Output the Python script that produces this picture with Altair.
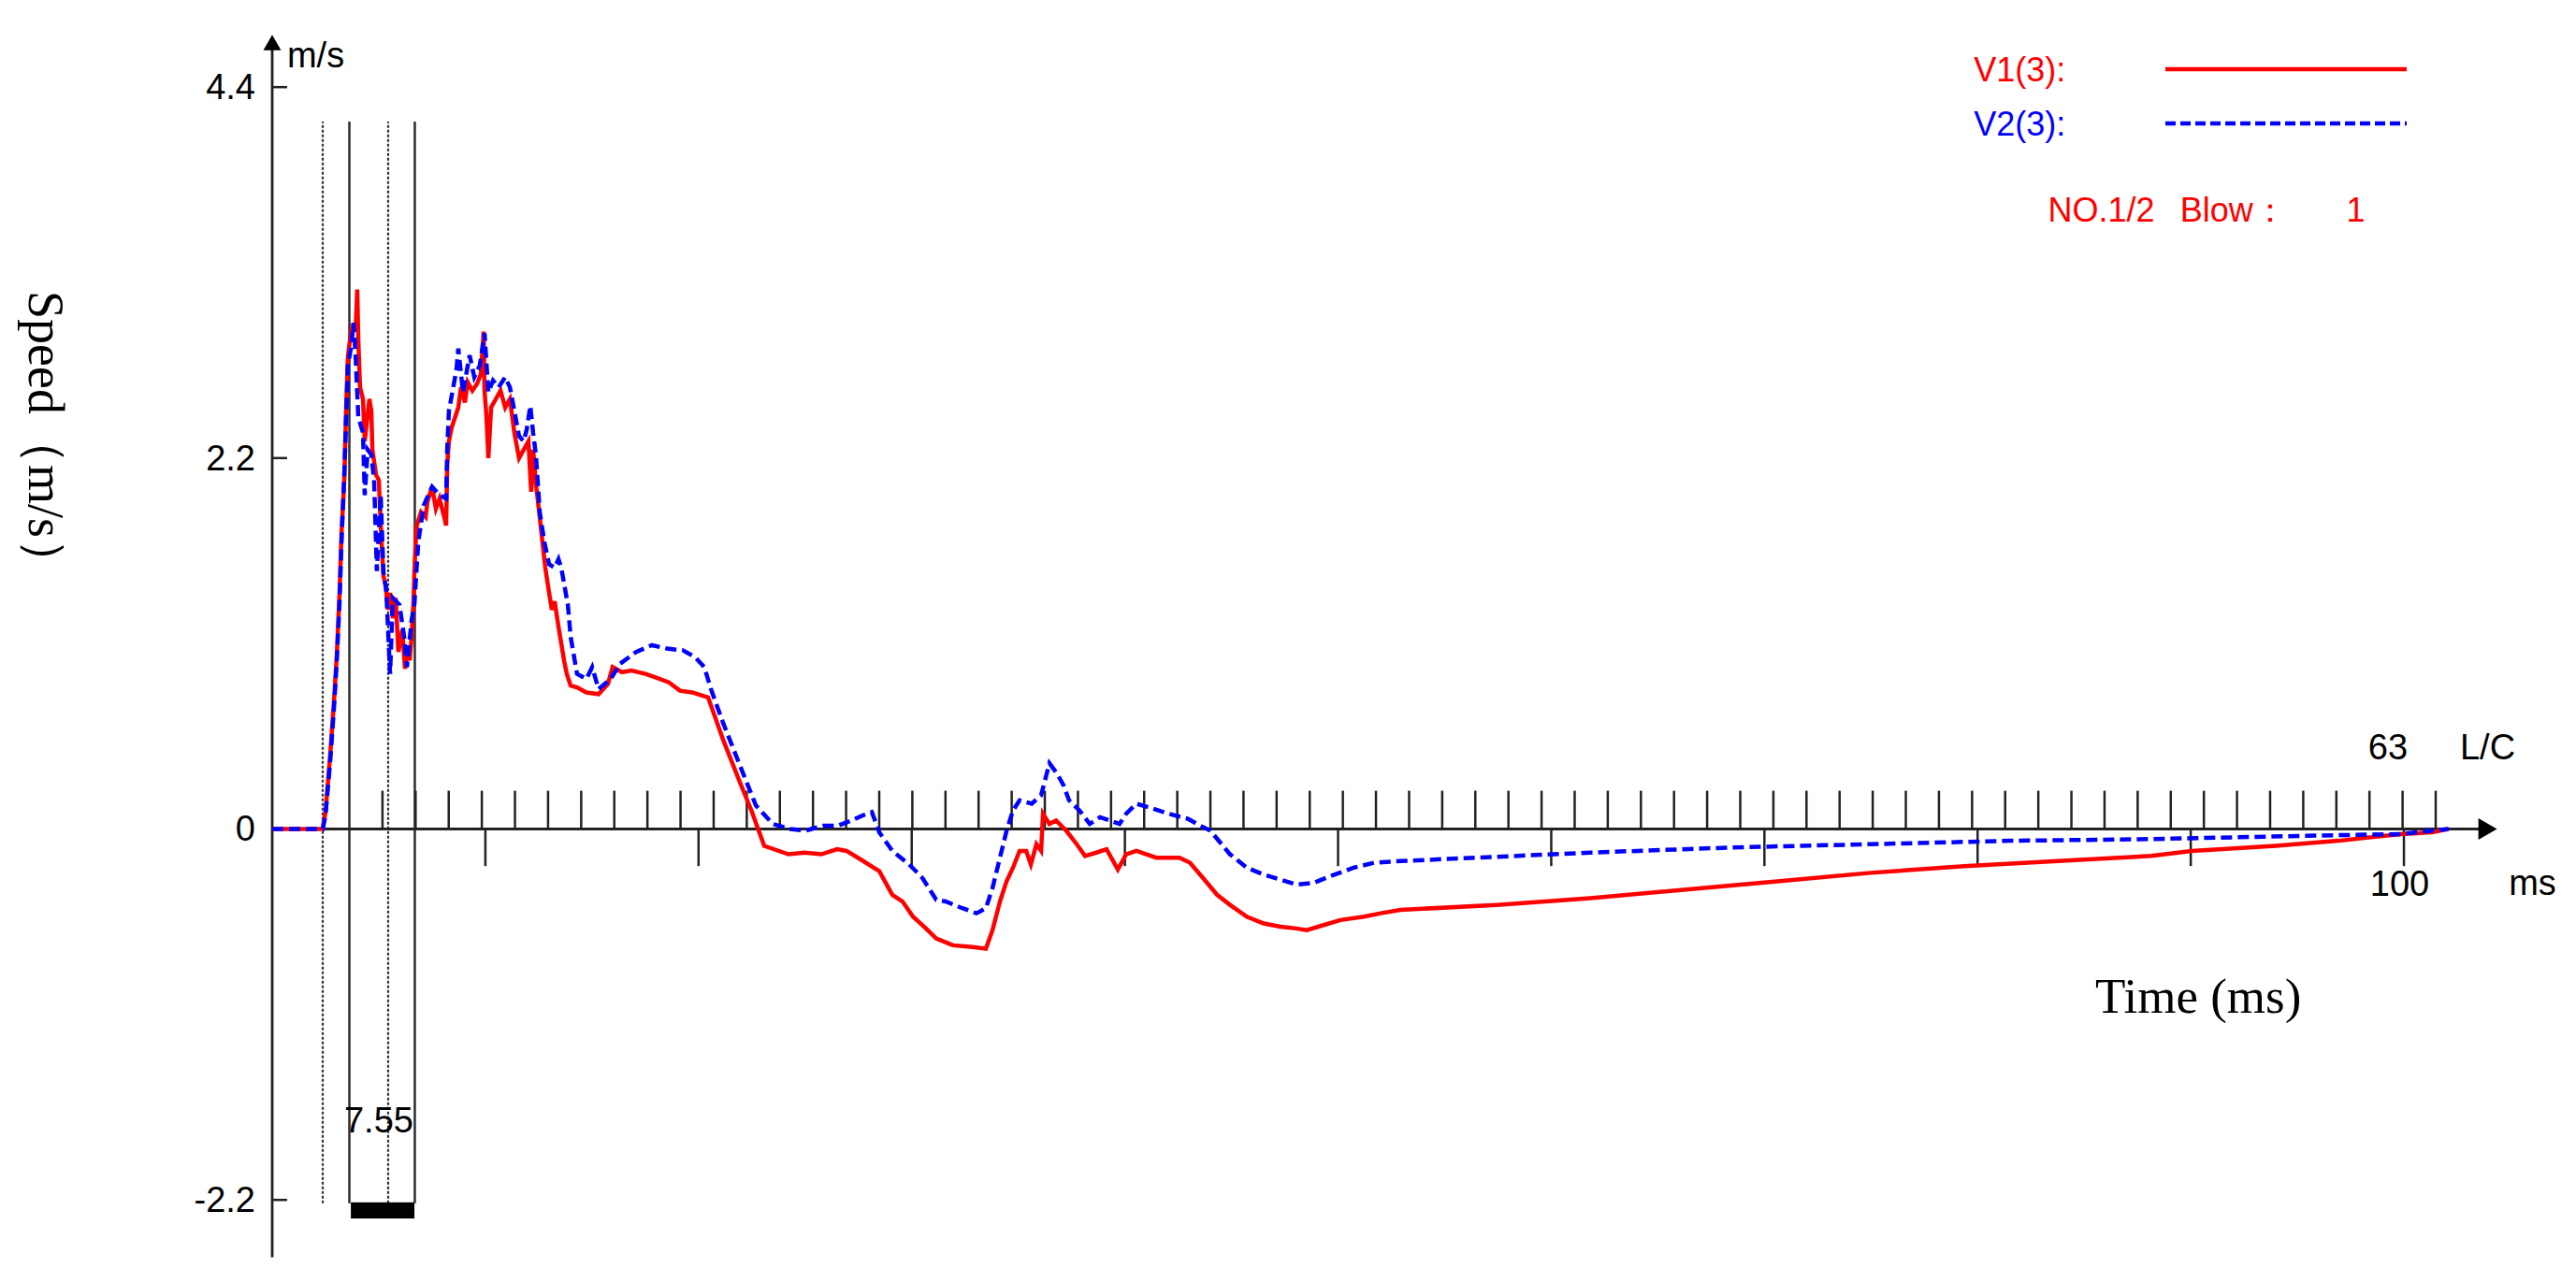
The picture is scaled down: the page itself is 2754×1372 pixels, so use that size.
import altair as alt
import pandas as pd

# ---------------- data ----------------
# V1(3) : red solid  (time ms, speed m/s)
v1_time = [0, 2.37, 2.50, 2.72, 2.90, 3.03, 3.16, 3.25, 3.38, 3.47,
           3.55, 3.69, 3.82, 3.91, 3.99, 4.04, 4.12, 4.26, 4.34, 4.43,
           4.56, 4.65, 4.70, 4.87, 5.00, 5.13, 5.22, 5.31, 5.44, 5.53,
           5.66, 5.79, 5.92, 6.10, 6.23, 6.32, 6.45, 6.54, 6.63, 6.67,
           6.76, 6.98, 7.20, 7.28, 7.50, 7.68, 7.85, 8.07, 8.16, 8.21,
           8.29, 8.42, 8.60, 8.73, 8.86, 9.04, 9.17, 9.39, 9.61, 9.79,
           9.92, 9.96, 10.05, 10.14, 10.27, 10.49, 10.71, 10.93, 11.15, 11.36,
           11.58, 11.80, 12.02, 12.15, 12.24, 12.37, 12.55, 12.68, 12.81, 12.99,
           13.12, 13.25, 13.43, 13.56, 13.69, 13.82, 14.00, 14.30, 14.74, 15.31,
           15.75, 15.97, 16.41, 16.85, 17.51, 17.95, 18.61, 19.13, 19.70, 20.45,
           21.15, 21.90, 22.51, 23.08, 24.22, 24.97, 25.76, 26.50, 26.94, 27.60,
           28.48, 29.09, 29.57, 30.06, 30.67, 31.15, 31.94, 32.87, 33.48, 33.79,
           34.14, 34.45, 34.75, 35.06, 35.37, 35.59, 35.85, 36.07, 36.16, 36.46,
           36.77, 37.25, 37.74, 38.13, 38.66, 39.14, 39.67, 40.06, 40.54, 41.47,
           42.56, 43.05, 43.66, 44.32, 44.93, 45.72, 46.51, 47.30, 48.05, 48.53,
           49.32, 50.11, 51.21, 52.00, 52.92, 57.44, 61.83, 66.21, 70.60, 74.99,
           79.38, 83.77, 88.15, 90.04, 93.99, 96.93, 99.87, 101.32, 102.06]
v1_speed = [0, 0, 0.10, 0.44, 0.76, 1.03, 1.40, 1.75, 2.07, 2.50,
            2.80, 2.94, 3.00, 2.95, 3.20, 2.90, 2.62, 2.55, 2.30, 2.40,
            2.55, 2.48, 2.25, 2.10, 2.07, 1.70, 1.50, 1.45, 1.30, 1.40,
            1.25, 1.37, 1.05, 1.18, 0.95, 1.07, 1.00, 1.14, 1.35, 1.52,
            1.79, 1.88, 1.85, 1.94, 2.03, 1.90, 1.96, 1.85, 1.80, 2.16,
            2.30, 2.38, 2.45, 2.50, 2.62, 2.53, 2.65, 2.60, 2.64, 2.70,
            2.95, 2.60, 2.45, 2.20, 2.50, 2.55, 2.60, 2.50, 2.55, 2.35,
            2.20, 2.25, 2.30, 2.00, 2.25, 2.05, 1.85, 1.70, 1.55, 1.40,
            1.30, 1.35, 1.20, 1.10, 1.00, 0.92, 0.85, 0.84, 0.81, 0.80,
            0.86, 0.96, 0.93, 0.94, 0.92, 0.90, 0.87, 0.82, 0.81, 0.78,
            0.53, 0.29, 0.10, -0.10, -0.15, -0.14, -0.15, -0.12, -0.13, -0.18,
            -0.25, -0.39, -0.43, -0.52, -0.59, -0.65, -0.69, -0.70, -0.71, -0.60,
            -0.43, -0.31, -0.23, -0.13, -0.13, -0.21, -0.09, -0.13, 0.09, 0.03,
            0.05, -0.01, -0.09, -0.16, -0.14, -0.12, -0.24, -0.15, -0.13, -0.17,
            -0.17, -0.20, -0.29, -0.39, -0.45, -0.52, -0.56, -0.58, -0.59, -0.60,
            -0.57, -0.54, -0.52, -0.50, -0.48, -0.45, -0.41, -0.36, -0.31, -0.26,
            -0.22, -0.19, -0.16, -0.13, -0.10, -0.07, -0.03, -0.02, 0]

# V2(3) : blue dashed
v2_time = [0, 2.37, 2.50, 2.72, 2.90, 3.03, 3.16, 3.25, 3.38, 3.47,
           3.55, 3.69, 3.82, 3.91, 4.04, 4.26, 4.34, 4.48, 4.65, 4.78,
           4.91, 5.09, 5.22, 5.35, 5.53, 5.66, 5.97, 6.19, 6.32, 6.54,
           6.67, 6.85, 7.11, 7.50, 7.85, 8.16, 8.21, 8.29, 8.64, 8.73,
           8.95, 9.26, 9.48, 9.74, 9.96, 10.14, 10.36, 10.62, 10.93, 11.15,
           11.36, 11.58, 11.80, 11.94, 12.11, 12.24, 12.37, 12.55, 12.77, 12.99,
           13.25, 13.43, 13.56, 13.87, 14.00, 14.30, 14.74, 15.01, 15.31, 15.88,
           16.32, 17.07, 17.81, 18.52, 19.26, 19.83, 20.27, 20.58, 21.15, 21.90,
           22.69, 23.48, 24.31, 25.01, 25.85, 26.55, 27.16, 27.69, 28.13, 28.48,
           29.09, 29.88, 30.50, 31.15, 31.59, 32.38, 33.04, 33.48, 33.79, 34.14,
           34.45, 34.75, 35.06, 35.63, 36.07, 36.46, 36.81, 37.12, 37.38, 37.87,
           38.35, 38.83, 39.32, 39.75, 40.06, 40.54, 41.33, 42.08, 42.96, 43.53,
           44.01, 44.93, 45.72, 46.51, 48.05, 48.84, 49.63, 50.72, 51.69, 52.92,
           56.56, 61.83, 68.41, 74.99, 81.57, 88.15, 95.48, 99.87, 101.32, 102.10]
v2_speed = [0, 0, 0.08, 0.40, 0.72, 1.00, 1.35, 1.70, 2.10, 2.45,
            2.75, 2.85, 3.00, 2.81, 2.44, 2.35, 1.98, 2.25, 2.22, 2.07,
            1.53, 1.98, 1.52, 1.42, 0.92, 1.37, 1.33, 1.14, 0.96, 1.24,
            1.33, 1.70, 1.92, 2.03, 1.98, 1.96, 2.25, 2.48, 2.72, 2.85,
            2.59, 2.81, 2.68, 2.75, 2.94, 2.59, 2.66, 2.62, 2.68, 2.62,
            2.48, 2.33, 2.30, 2.37, 2.51, 2.35, 2.22, 1.88, 1.70, 1.57,
            1.55, 1.60, 1.55, 1.33, 1.14, 0.92, 0.89, 0.96, 0.83, 0.89,
            0.98, 1.05, 1.09, 1.07, 1.06, 1.02, 0.96, 0.83, 0.63, 0.39,
            0.14, 0.03, 0.00, -0.01, 0.02, 0.02, 0.05, 0.08, 0.10, -0.02,
            -0.13, -0.21, -0.29, -0.42, -0.43, -0.47, -0.50, -0.47, -0.35, -0.17,
            -0.01, 0.11, 0.17, 0.15, 0.20, 0.39, 0.33, 0.26, 0.17, 0.11,
            0.03, 0.07, 0.05, 0.03, 0.09, 0.15, 0.12, 0.09, 0.06, 0.02,
            -0.01, -0.15, -0.23, -0.27, -0.33, -0.32, -0.28, -0.23, -0.20, -0.19,
            -0.17, -0.14, -0.11, -0.09, -0.07, -0.06, -0.04, -0.03, -0.01, 0]

# axis ticks / labels
y_tick_values = [4.4, 2.2, 0, -2.2]
y_tick_labels = ["4.4", "2.2", "0", "-2.2"]
x_major_ticks = [10, 20, 30, 40, 50, 60, 70, 80, 90, 100]
lc_count = 63          # L/C marks
lc_start = 3.62        # ms of first marker line
lc_step = 1.5535       # ms per L/C
dotted_marks = [2.37, 5.44]
solid_marks = [3.62, 6.69]

RED = "#ff0000"
BLUE = "#0000ff"
INK = "#222222"

# ---------------- scales ----------------
W, H = 2730, 1350
X_DOM = [-12.418, 107.37]
Y_DOM = [-2.6151, 4.8724]
xs = alt.Scale(domain=X_DOM, nice=False, zero=False)
ys = alt.Scale(domain=Y_DOM, nice=False, zero=False)


def X(f):
    return alt.X(f, type="quantitative", scale=xs, axis=None)


def Y(f):
    return alt.Y(f, type="quantitative", scale=ys, axis=None)


def rules(rows, **kw):
    df = pd.DataFrame(rows, columns=["x1", "y1", "x2", "y2"])
    return alt.Chart(df).mark_rule(**kw).encode(
        x=X("x1"), y=Y("y1"), x2=alt.X2("x2"), y2=alt.Y2("y2"))


def texts(rows, **kw):
    df = pd.DataFrame(rows, columns=["t", "v", "label"])
    return alt.Chart(df).mark_text(**kw).encode(
        x=X("t"), y=Y("v"), text="label:N")


layers = []

# marker lines (dotted & solid) and the black bar
layers.append(rules([(t, -2.22, t, 4.196) for t in dotted_marks],
                    color="#333333", strokeWidth=2.2, strokeDash=[3, 2]))
layers.append(rules([(t, -2.22, t, 4.196) for t in solid_marks],
                    color="#333333", strokeWidth=2.6))
bar_df = pd.DataFrame({"x1": [3.69], "x2": [6.67], "y1": [-2.215], "y2": [-2.31]})
layers.append(alt.Chart(bar_df).mark_rect(color="black").encode(
    x=X("x1"), x2=alt.X2("x2"), y=Y("y1"), y2=alt.Y2("y2")))

# y axis
layers.append(rules([(0, -2.54, 0, 4.664)], color=INK, strokeWidth=2.8))
layers.append(rules([(0, v, 0.70, v) for v in y_tick_values], color=INK, strokeWidth=2.5))
# x axis
layers.append(rules([(0, 0, 103.93, 0)], color=INK, strokeWidth=2.8))
layers.append(rules([(t, 0, t, -0.22) for t in x_major_ticks], color=INK, strokeWidth=2.5))
lc_ticks = [lc_start + k * lc_step for k in range(1, lc_count + 1)]
layers.append(rules([(t, 0, t, 0.227) for t in lc_ticks], color=INK, strokeWidth=2.5))

# arrow heads
arr_up = pd.DataFrame({"t": [0], "v": [4.664]})
layers.append(alt.Chart(arr_up).mark_point(shape="triangle-up", size=361, filled=True,
                                           color="black", opacity=1, strokeWidth=0).encode(
    x=X("t"), y=Y("v")))
arr_right = pd.DataFrame({"t": [103.93], "v": [0]})
layers.append(alt.Chart(arr_right).mark_point(shape="triangle-right", size=529, filled=True,
                                              color="black", opacity=1, strokeWidth=0).encode(
    x=X("t"), y=Y("v")))

# curves
df1 = pd.DataFrame({"t": v1_time, "v": v1_speed, "i": range(len(v1_time))})
df2 = pd.DataFrame({"t": v2_time, "v": v2_speed, "i": range(len(v2_time))})
layers.append(alt.Chart(df1).mark_line(color=RED, strokeWidth=4.5, interpolate="linear").encode(
    x=X("t"), y=Y("v"), order="i:Q"))
layers.append(alt.Chart(df2).mark_line(color=BLUE, strokeWidth=4.5, strokeDash=[12, 6],
                                       interpolate="linear").encode(
    x=X("t"), y=Y("v"), order="i:Q"))

# legend
layers.append(rules([(88.81, 4.507, 100.13, 4.507)], color=RED, strokeWidth=4.5))
layers.append(rules([(88.81, 4.185, 100.13, 4.185)], color=BLUE, strokeWidth=4.5, strokeDash=[11, 5]))
layers.append(texts([(79.82, 4.434, "V1(3):")], color=RED, font="Liberation Sans",
                    fontSize=36, align="left", baseline="alphabetic"))
layers.append(texts([(79.82, 4.113, "V2(3):")], color=BLUE, font="Liberation Sans",
                    fontSize=36, align="left", baseline="alphabetic"))
layers.append(texts([(83.3, 3.60, "NO.1/2"), (89.5, 3.60, "Blow："), (97.3, 3.60, "1")],
                    color=RED, font="Liberation Sans", fontSize=36, align="left",
                    baseline="alphabetic"))

# tick labels and unit labels
layers.append(texts([(-0.79, v, s) for v, s in zip(y_tick_values, y_tick_labels)],
                    color="black", font="Liberation Sans", fontSize=38, align="right",
                    baseline="alphabetic", dy=13))
layers.append(texts([(0.70, 4.515, "m/s"), (102.63, 0.413, "L/C"), (104.92, -0.391, "ms")],
                    color="black", font="Liberation Sans", fontSize=38, align="left",
                    baseline="alphabetic"))
layers.append(texts([(99.25, 0.413, "63"), (99.8, -0.397, "100"), (5.0, -1.80, "7.55")],
                    color="black", font="Liberation Sans", fontSize=38, align="center",
                    baseline="alphabetic"))

# axis titles
layers.append(texts([(90.35, -1.089, "Time (ms)")], color="black", font="Liberation Serif",
                    fontSize=53, align="center", baseline="alphabetic"))
layers.append(texts([(-10.71, 2.31, "Speed（m/s）")], color="black", font="Liberation Serif",
                    fontSize=54, align="center", baseline="middle", angle=90))

chart = alt.layer(*layers).properties(
    width=W, height=H, padding=0,
    autosize=alt.AutoSizeParams(type="none"),
    background="white",
).configure_view(strokeWidth=0)

chart.save("out.html", embed_options={"renderer": "svg", "actions": False})
